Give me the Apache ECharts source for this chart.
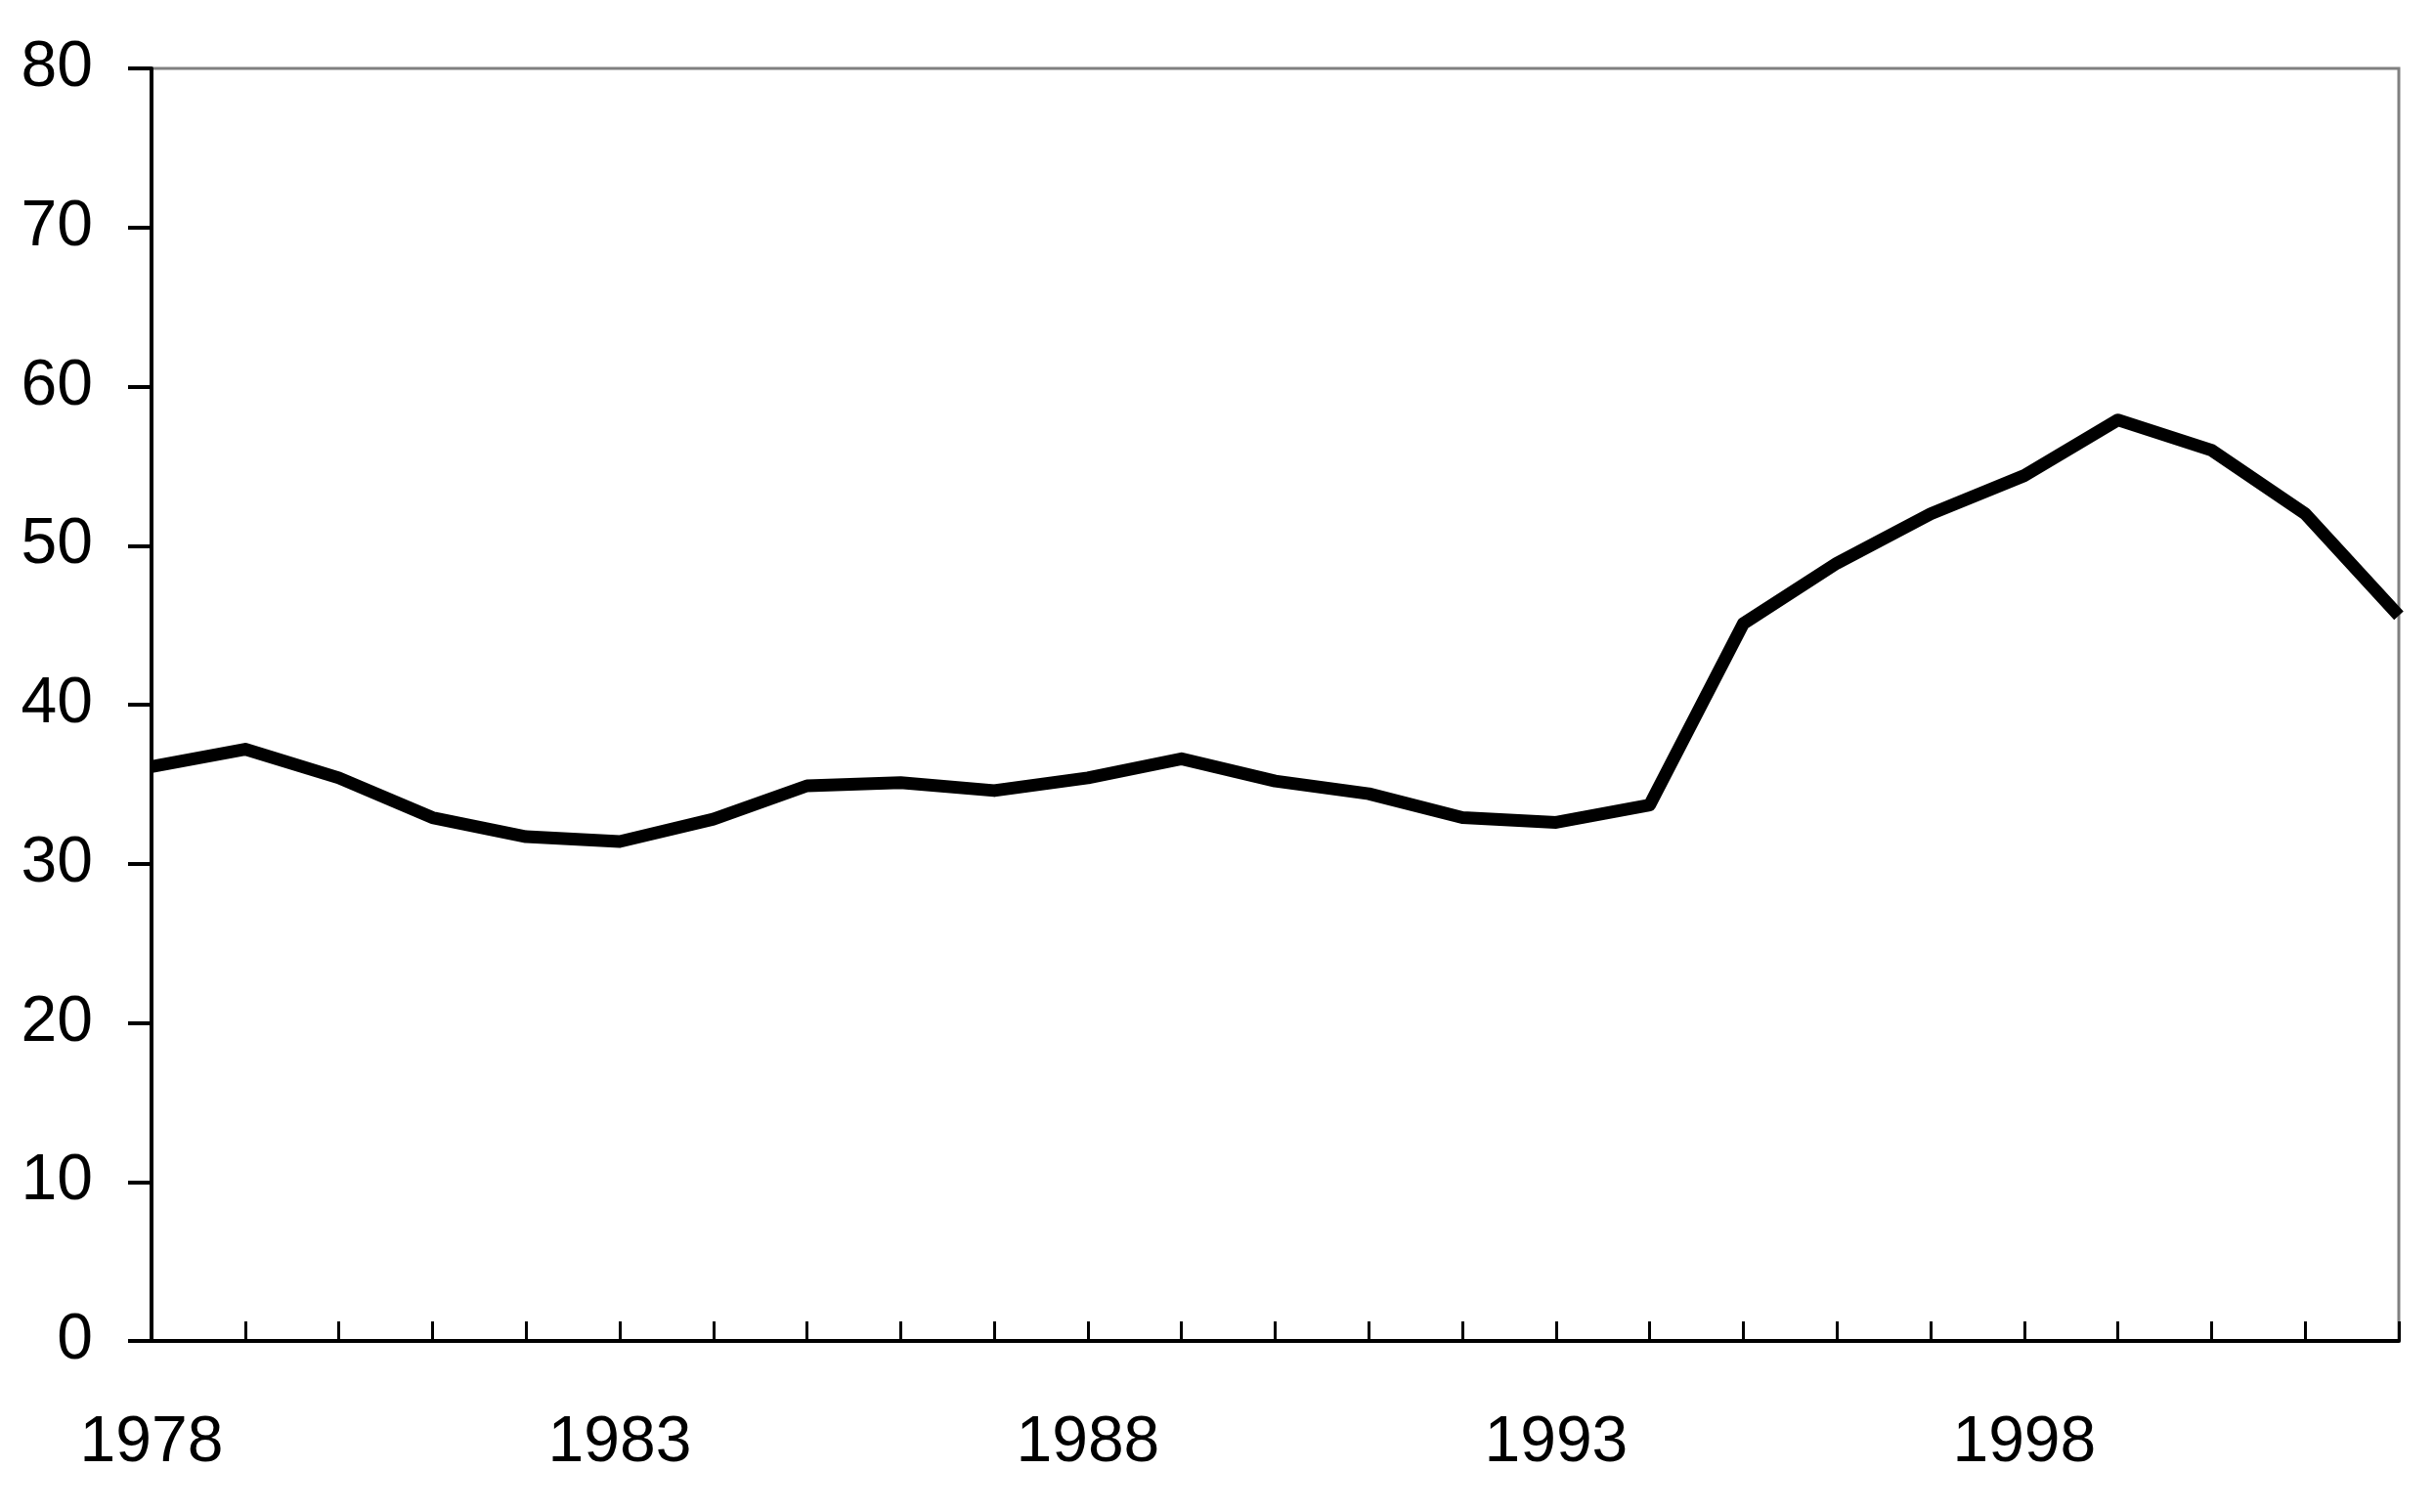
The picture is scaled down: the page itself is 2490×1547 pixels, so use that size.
<!DOCTYPE html>
<html>
<head>
<meta charset="utf-8">
<script src="https://cdn.jsdelivr.net/npm/echarts@6/dist/echarts.min.js"></script>
<style>
html,body{margin:0;padding:0;background:#fff;}
#chart{width:2490px;height:1547px;}
</style>
</head>
<body>
<div id="chart"></div>
<script>
const years = ['1978','1979','1980','1981','1982','1983','1984','1985','1986','1987','1988','1989','1990','1991','1992','1993','1994','1995','1996','1997','1998','1999','2000','2001','2002'];
const values = [36.1,37.2,35.4,32.9,31.7,31.4,32.8,34.9,35.1,34.6,35.4,36.6,35.2,34.4,32.9,32.6,33.7,45.1,48.9,52.0,54.4,57.9,56.0,52.0,45.6];
const yMin = 0, yMax = 80, yStep = 10;

const chart = echarts.init(document.getElementById('chart'));
chart.setOption({
  animation: false,
  backgroundColor: '#ffffff',
  grid: {
    left: 155, right: 36, top: 70, bottom: 175,
    show: true, borderColor: '#808080', borderWidth: 3, backgroundColor: 'transparent'
  },
  xAxis: {
    type: 'category',
    data: years,
    boundaryGap: false,
    axisLine: { lineStyle: { color: '#000', width: 4 } },
    axisTick: { show: true, inside: true, length: 20, interval: 0, lineStyle: { color: '#000', width: 3 } },
    axisLabel: { interval: 4, margin: 72, color: '#000', fontSize: 66, fontFamily: 'Liberation Sans, Arial, sans-serif' },
    splitLine: { show: false }
  },
  yAxis: {
    type: 'value',
    min: yMin, max: yMax, interval: yStep,
    axisLine: { show: true, lineStyle: { color: '#000', width: 4 } },
    axisTick: { show: true, inside: false, length: 24, lineStyle: { color: '#000', width: 4 } },
    axisLabel: { margin: 60, color: '#000', fontSize: 66, fontFamily: 'Liberation Sans, Arial, sans-serif' },
    splitLine: { show: false }
  },
  series: [{
    type: 'line',
    data: values,
    symbol: 'none',
    lineStyle: { color: '#000', width: 13, join: 'round' },
    clip: false
  }]
});
</script>
</body>
</html>
